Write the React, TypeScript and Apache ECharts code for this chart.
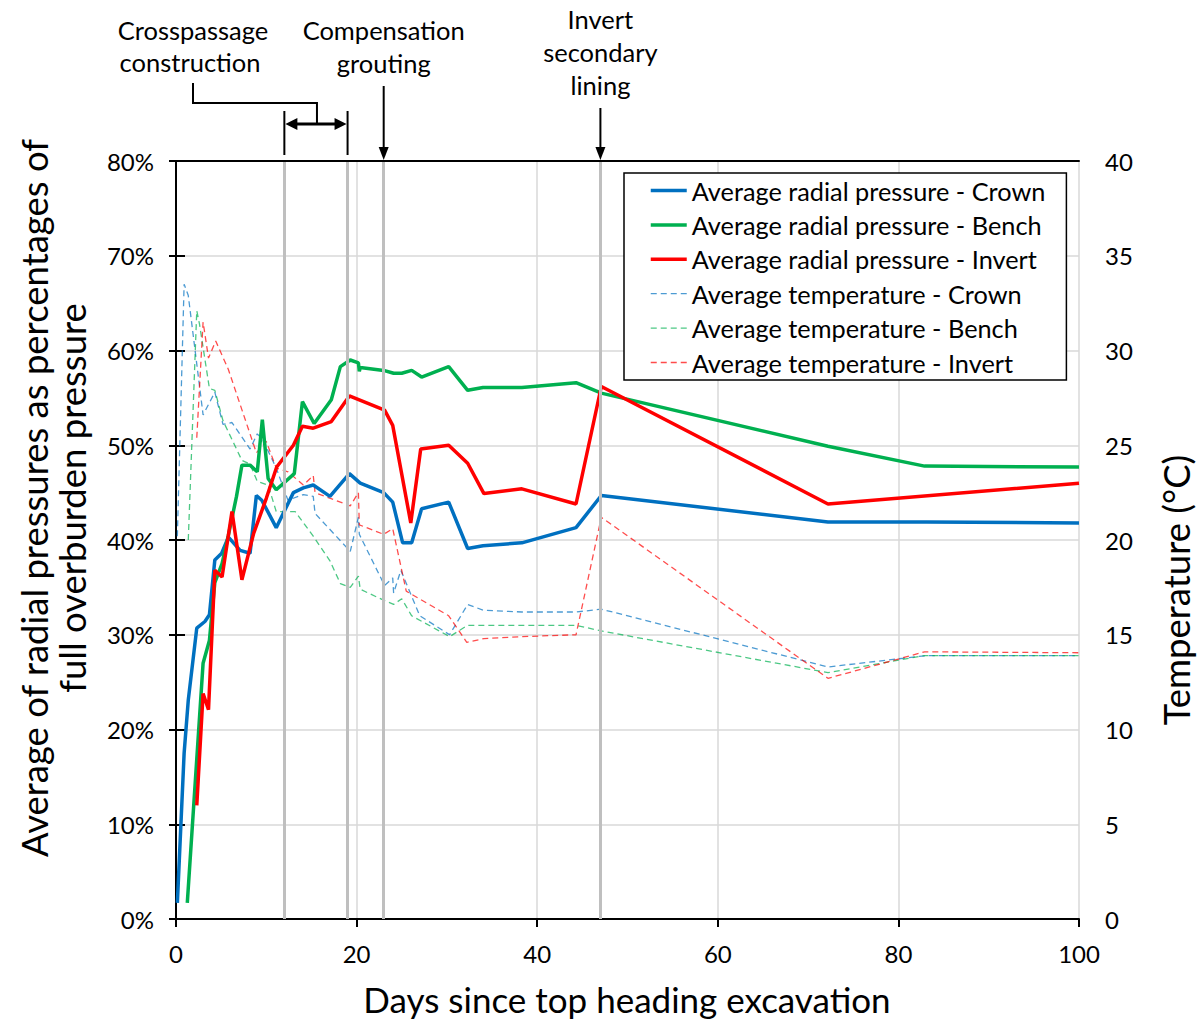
import React, { useEffect, useRef } from "react";
import * as echarts from "echarts";

const FONT = "Lato";

const xTicks = { min: 0, max: 100, interval: 20 };
const leftTicks = { min: 0, max: 80, interval: 10 };
const rightTicks = { min: 0, max: 40, interval: 5 };

const seriesNames = [
  "Average radial pressure - Crown",
  "Average radial pressure - Bench",
  "Average radial pressure - Invert",
  "Average temperature - Crown",
  "Average temperature - Bench",
  "Average temperature - Invert",
];

const crownPressure: [number, number][] = [
  [0.15, 1.7], [0.9, 17.5], [1.36, 23.1], [2.3, 30.7], [3.2, 31.4], [3.7, 32.1], [4.3, 37.9],
  [5.06, 38.6], [5.8, 40.3], [7.1, 38.9], [8.2, 38.6], [8.9, 44.7], [9.5, 44.2], [11.1, 41.3],
  [13.0, 45.0], [14.1, 45.5], [15.2, 45.8], [17.05, 44.6], [19.2, 47.0], [20.4, 46.0], [23.0, 45.0],
  [24.0, 44.0], [25.1, 39.7], [26.1, 39.7], [27.2, 43.3], [30.2, 44.0], [32.3, 39.1], [34.0, 39.4],
  [38.3, 39.7], [44.3, 41.3], [47.1, 44.7], [72.2, 41.9], [83.1, 41.9], [100, 41.8],
];

const benchPressure: [number, number][] = [
  [1.25, 1.7], [3.0, 27.0], [3.7, 29.4], [4.3, 35.5], [5.1, 37.5], [5.8, 40.5], [6.7, 44.6],
  [7.3, 47.9], [8.2, 47.9], [9.0, 47.2], [9.56, 52.7], [10.2, 46.5], [11.1, 45.3], [13.1, 47.0],
  [14.0, 54.6], [15.3, 52.3], [17.2, 54.8], [18.2, 58.3], [19.3, 59.0], [20.2, 58.7], [20.3, 57.8],
  [20.4, 58.2], [23.0, 57.9], [24.1, 57.6], [25.0, 57.6], [26.1, 57.9], [27.2, 57.2], [30.2, 58.3],
  [32.3, 55.8], [34.0, 56.1], [38.3, 56.1], [44.3, 56.6], [47.1, 55.5], [72.2, 49.9], [82.9, 47.8],
  [100, 47.7],
];

const invertPressure: [number, number][] = [
  [2.3, 12.0], [3.0, 23.8], [3.6, 22.1], [4.3, 36.8], [5.1, 36.1], [6.2, 43.0], [7.3, 35.8],
  [8.6, 40.7], [10.0, 44.4], [11.15, 47.7], [13.0, 50.0], [14.0, 52.0], [15.2, 51.8], [17.2, 52.5],
  [19.2, 55.2], [23.1, 53.7], [24.0, 52.1], [26.0, 41.8], [27.1, 49.6], [30.2, 50.0], [32.3, 48.1],
  [34.1, 44.9], [38.3, 45.4], [44.3, 43.8], [47.1, 56.2], [72.2, 43.8], [100, 46.0],
];

const crownTemp: [number, number][] = [
  [0.15, 20.2], [0.9, 33.5], [1.36, 32.9], [3.0, 26.6], [4.3, 27.8], [5.2, 26.1], [6.2, 26.2],
  [8.2, 24.8], [9.0, 25.6], [9.6, 25.3], [11.1, 23.8], [12.4, 22.1], [14.1, 22.4], [15.2, 22.3],
  [15.4, 21.4], [19.3, 19.4], [20.2, 21.2], [20.3, 20.3], [23.1, 17.6], [24.0, 18.0], [24.1, 17.2],
  [24.9, 18.4], [27.0, 16.0], [30.3, 15.0], [32.3, 16.6], [34.0, 16.3], [38.3, 16.2], [44.3, 16.2],
  [47.1, 16.35], [72.2, 13.3], [83.1, 13.9], [100, 13.9],
];

const benchTemp: [number, number][] = [
  [1.36, 20.0], [2.3, 32.1], [2.6, 31.4], [3.7, 28.0], [4.3, 27.9], [5.2, 26.3], [7.3, 24.2],
  [8.2, 24.0], [9.0, 23.1], [10.2, 22.9], [11.1, 21.5], [13.2, 21.5], [15.2, 20.2], [17.05, 18.9],
  [18.2, 17.7], [19.3, 17.5], [20.2, 18.1], [20.4, 17.4], [23.1, 16.8], [24.1, 16.6], [25.0, 16.9],
  [26.1, 16.0], [30.3, 14.9], [32.3, 15.5], [34.0, 15.5], [44.3, 15.5], [47.1, 15.2], [72.2, 13.0],
  [82.9, 13.9], [100, 13.9],
];

const invertTemp: [number, number][] = [
  [2.3, 25.4], [3.0, 31.5], [3.6, 29.6], [4.4, 30.5], [5.8, 29.0], [8.9, 24.6], [10.0, 25.2],
  [11.1, 23.8], [12.4, 23.6], [14.1, 22.9], [15.2, 23.4], [15.4, 22.5], [19.3, 21.8], [20.2, 22.5],
  [20.3, 20.8], [23.0, 20.3], [24.0, 20.6], [25.5, 17.3], [30.2, 16.0], [32.2, 14.6], [34.1, 14.8],
  [38.3, 14.9], [44.3, 15.0], [47.1, 21.2], [72.2, 12.7], [82.9, 14.1], [100, 14.05],
];

const eventDays = [12, 19, 23, 47];

const COLORS = ["#0070C0", "#00B050", "#FF0000"];

export default function App() {
  const ref = useRef<HTMLDivElement>(null);

  useEffect(() => {
    if (!ref.current) return;
    const chart = echarts.init(ref.current, undefined, { renderer: "svg" });

    const SOLID_W = 3.5;
    const DASH_W = 1.3;
    const DASH: number[] = [6, 4];

    const solid = (name: string, data: [number, number][], color: string) => ({
      name,
      type: "line",
      data,
      yAxisIndex: 0,
      symbol: "none",
      z: 4,
      lineStyle: { color, width: SOLID_W },
      itemStyle: { color },
    });
    const dashed = (name: string, data: [number, number][], color: string) => ({
      name,
      type: "line",
      data,
      yAxisIndex: 1,
      symbol: "none",
      z: 3,
      lineStyle: { color, width: DASH_W, type: DASH, opacity: 0.7 },
      itemStyle: { color, opacity: 0.7 },
    });

    const axisFont = { fontFamily: FONT, fontSize: 24, color: "#000" };

    const legendData = seriesNames.map((name, i) => ({
      name,
      lineStyle:
        i < 3
          ? { color: COLORS[i], width: SOLID_W, type: "solid", opacity: 1 }
          : { color: COLORS[i - 3], width: DASH_W, type: DASH, opacity: 0.7 },
      itemStyle: { opacity: 0 },
    }));

    chart.setOption({
      animation: false,
      backgroundColor: "#fff",
      textStyle: { fontFamily: FONT },
      grid: { left: 176, right: 120, top: 161, bottom: 100 },
      xAxis: [
        {
          type: "value",
          min: xTicks.min,
          max: xTicks.max,
          interval: xTicks.interval,
          axisLine: { show: true, onZero: false, lineStyle: { color: "#000", width: 2 } },
          axisTick: { show: true, length: 8, lineStyle: { color: "#000", width: 2 } },
          axisLabel: { ...axisFont, margin: 22 },
          splitLine: { show: true, lineStyle: { color: "#d9d9d9", width: 1.5 } },
        },
        {
          type: "value",
          position: "top",
          min: xTicks.min,
          max: xTicks.max,
          interval: xTicks.interval,
          axisLine: { show: true, onZero: false, lineStyle: { color: "#000", width: 2 } },
          axisTick: { show: false },
          axisLabel: { show: false },
          splitLine: { show: false },
          z: 10,
        },
      ],
      yAxis: [
        {
          type: "value",
          position: "left",
          min: leftTicks.min,
          max: leftTicks.max,
          interval: leftTicks.interval,
          axisLine: { show: true, lineStyle: { color: "#000", width: 2 } },
          axisTick: { show: true, length: 7, lineStyle: { color: "#000", width: 2 } },
          axisLabel: { ...axisFont, margin: 22, formatter: "{value}%" },
          splitLine: { show: true, lineStyle: { color: "#d9d9d9", width: 1.5 } },
        },
        {
          type: "value",
          position: "right",
          min: rightTicks.min,
          max: rightTicks.max,
          interval: rightTicks.interval,
          axisLine: { show: true, lineStyle: { color: "#000", width: 2 } },
          axisTick: { show: true, length: 9, lineStyle: { color: "#000", width: 2 } },
          axisLabel: { ...axisFont, margin: 26 },
          splitLine: { show: false },
        },
      ],
      legend: {
        orient: "vertical",
        left: 624,
        top: 173,
        data: legendData,
        itemWidth: 36,
        itemHeight: 14,
        itemGap: 9.4,
        padding: [5, 21, 5, 25],
        borderColor: "#000",
        borderWidth: 1.5,
        backgroundColor: "#fff",
        itemStyle: { opacity: 0 },
        textStyle: { fontFamily: FONT, fontSize: 25.3, lineHeight: 25, color: "#000" },
      },
      series: [
        {
          type: "line",
          data: [],
          z: 1,
          silent: true,
          markLine: {
            silent: true,
            symbol: ["none", "none"],
            label: { show: false },
            lineStyle: { color: "#bfbfbf", width: 3, type: "solid" },
            data: eventDays.map((d) => ({ xAxis: d })),
          },
        },
        solid(seriesNames[0], crownPressure, COLORS[0]),
        solid(seriesNames[1], benchPressure, COLORS[1]),
        solid(seriesNames[2], invertPressure, COLORS[2]),
        dashed(seriesNames[3], crownTemp, COLORS[0]),
        dashed(seriesNames[4], benchTemp, COLORS[1]),
        dashed(seriesNames[5], invertTemp, COLORS[2]),
      ],
    });

    const px = (d: number) => chart.convertToPixel({ xAxisIndex: 0 }, d) as number;
    const [x12, x19, x23, x47] = eventDays.map(px);
    const xMid = (x12 + x19) / 2;
    const annFont = `25.5px ${FONT}`;
    const titleFont = `35px ${FONT}`;
    const sideFont = `36.5px ${FONT}`;
    const black = { stroke: "#000", lineWidth: 2 };
    const txt = (text: string, x: number, y: number, font = annFont, rotation = 0) => ({
      type: "text",
      x,
      y,
      rotation,
      style: { text, font, fill: "#000", align: "center", verticalAlign: "middle" },
    });
    const downArrow = (x: number, y1: number, y2: number) => [
      { type: "line", shape: { x1: x, y1, x2: x, y2: y2 - 10 }, style: black },
      { type: "polygon", shape: { points: [[x - 5, y2 - 13], [x + 5, y2 - 13], [x, y2]] }, style: { fill: "#000" } },
    ];
    const ay = 124;

    chart.setOption({
      graphic: [
        txt("Crosspassage", 193, 30),
        txt("construction", 190, 62),
        txt("Compensation", x23, 30),
        txt("grouting", x23, 63),
        txt("Invert", x47, 19),
        txt("secondary", x47, 52),
        txt("lining", x47, 85),
        { type: "polyline", shape: { points: [[193, 83], [193, 103], [xMid + 1, 103], [xMid + 1, ay]] }, style: { ...black, fill: null } },
        { type: "line", shape: { x1: x12, y1: 111, x2: x12, y2: 155 }, style: black },
        { type: "line", shape: { x1: x19, y1: 111, x2: x19, y2: 155 }, style: black },
        { type: "line", shape: { x1: x12 + 8, y1: ay, x2: x19 - 8, y2: ay }, style: { stroke: "#000", lineWidth: 3 } },
        { type: "polygon", shape: { points: [[x12 + 1, ay], [x12 + 13, ay - 6], [x12 + 13, ay + 6]] }, style: { fill: "#000" } },
        { type: "polygon", shape: { points: [[x19 - 1, ay], [x19 - 13, ay - 6], [x19 - 13, ay + 6]] }, style: { fill: "#000" } },
        ...downArrow(x23, 86, 160),
        ...downArrow(x47, 108, 160),
        txt("Days since top heading excavation", 627, 999, titleFont),
        txt("Average of radial pressures as percentages of", 34, 498, sideFont, Math.PI / 2),
        txt("full overburden pressure", 72, 498, sideFont, Math.PI / 2),
        txt("Temperature (°C)", 1176, 590, sideFont, Math.PI / 2),
      ],
    });

    return () => chart.dispose();
  }, []);

  return (
    <div
      ref={ref}
      style={{ position: "absolute", left: 0, top: 0, width: 1199, height: 1019 }}
    />
  );
}
